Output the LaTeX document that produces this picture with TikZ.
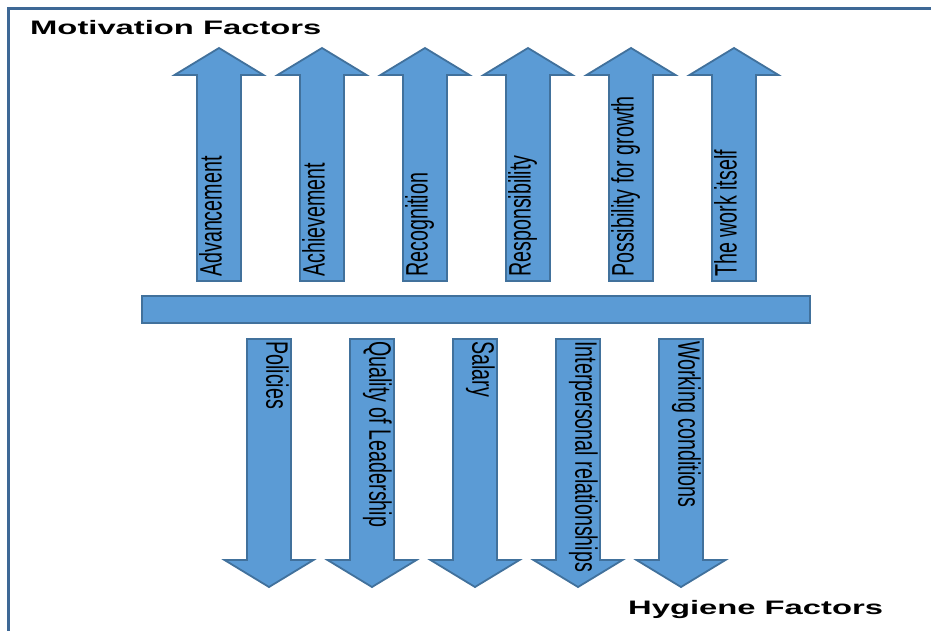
\documentclass[tikz,border=0pt]{standalone}
\usepackage{fontspec}
\usepackage{tikz}
\usetikzlibrary{positioning}
\newfontfamily\narrowfont[FakeStretch=0.635]{Liberation Sans}
\newfontfamily\widefont[FakeStretch=1.68]{Liberation Sans}
\definecolor{herzfill}{RGB}{91,155,213}
\definecolor{herzedge}{RGB}{65,113,156}
\definecolor{herzframe}{RGB}{62,104,150}

\begin{document}
\begin{tikzpicture}[x=1pt,y=-1pt,
  blockarrow/.style={draw=herzedge,fill=herzfill,line width=1.8pt,line join=miter},
  factorlabel/.style={inner sep=0pt,anchor=west,font=\narrowfont\fontsize{31}{31}\selectfont,text height=0.72em,text depth=0.21em},
  grouptitle/.style={inner sep=0pt,anchor=base west,font=\widefont\bfseries\fontsize{19.5}{19.5}\selectfont}]
  \useasboundingbox (0,0) rectangle (931,630);
  \fill[white] (0,0) rectangle (931,630);
  \draw[herzframe,line width=3pt] (8.5,640) -- (8.5,8.5) -- (940,8.5);
  % motivation factors, pointing up
  \foreach \x/\txt [count=\i] in {219/Advancement,322/Achievement,425/Recognition,528/Responsibility,631/Possibility for growth,734/The work itself} {
    \draw[blockarrow] ({\x-22},281) -- ({\x-22},75) -- ({\x-44.5},75) -- (\x,48) -- ({\x+44.5},75) -- ({\x+22},75) -- ({\x+22},281) -- cycle;
    \node[factorlabel,rotate=90] (mot\i) at (\x,277) {\txt};
  }
  % the dividing bar
  \draw[blockarrow] (142,296) rectangle (810,323);
  % hygiene factors, pointing down
  \foreach \x/\txt [count=\i] in {269/Policies,372/Quality of Leadership,475/Salary,578/Interpersonal relationships,681/Working conditions} {
    \draw[blockarrow] ({\x-22},339) -- ({\x-22},560) -- ({\x-44.5},560) -- (\x,587) -- ({\x+44.5},560) -- ({\x+22},560) -- ({\x+22},339) -- cycle;
    \node[factorlabel,rotate=-90] (hyg\i) at (\x,341) {\txt};
  }
  \node[grouptitle] (mottitle) at (30,34) {Motivation Factors};
  \node[grouptitle] (hygtitle) at (628,614) {Hygiene Factors};
\end{tikzpicture}
\end{document}
